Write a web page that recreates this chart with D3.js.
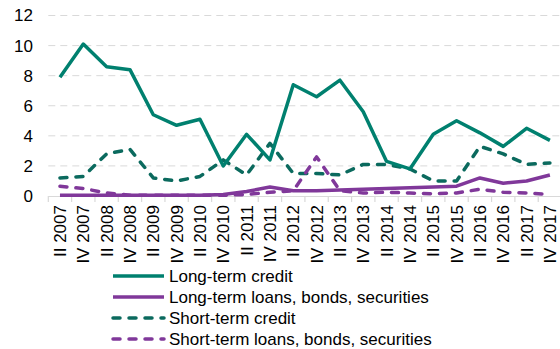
<!DOCTYPE html>
<html><head><meta charset="utf-8">
<script src="https://cdn.jsdelivr.net/npm/d3@7"></script>
<style>
html,body{margin:0;padding:0;background:#fff;}
svg{display:block;font-family:"Liberation Sans",Arial,sans-serif;}
</style></head>
<body><svg id="c" width="560" height="349"></svg>
<script>
const categories = ["II 2007","IV 2007","II 2008","IV 2008","II 2009","IV 2009","II 2010","IV 2010","II 2011","IV 2011","II 2012","IV 2012","II 2013","IV 2013","II 2014","IV 2014","II 2015","IV 2015","II 2016","IV 2016","II 2017","IV 2017"];
const longTermCredit = [7.9,10.1,8.6,8.4,5.4,4.7,5.1,2.0,4.1,2.4,7.4,6.6,7.7,5.6,2.3,1.8,4.1,5.0,4.2,3.3,4.5,3.7];
const longTermLoans = [0.05,0.05,0.05,0.05,0.05,0.05,0.05,0.1,0.3,0.6,0.35,0.35,0.4,0.45,0.5,0.55,0.6,0.65,1.2,0.85,1.0,1.4];
const shortTermCredit = [1.2,1.3,2.8,3.1,1.2,1.0,1.3,2.4,1.4,3.5,1.5,1.5,1.4,2.1,2.1,1.8,1.0,1.0,3.3,2.8,2.1,2.2];
const shortTermLoans = [0.65,0.5,0.2,0.05,0.05,0.05,0.05,0.05,0.1,0.25,0.35,2.6,0.35,0.2,0.25,0.2,0.15,0.2,0.45,0.25,0.2,0.1];
const yTicks = [0,2,4,6,8,10,12];
const seriesNames = ["Long-term credit","Long-term loans, bonds, securities","Short-term credit","Short-term loans, bonds, securities"];

const series = [
  {name: seriesNames[0], values: longTermCredit, color: "#00806f", dash: null},
  {name: seriesNames[1], values: longTermLoans, color: "#80389a", dash: null},
  {name: seriesNames[2], values: shortTermCredit, color: "#0b6a5e", dash: "7,9"},
  {name: seriesNames[3], values: shortTermLoans, color: "#80389a", dash: "7,9"}
];

const svg = d3.select("#c");
const left = 48.3, step = 23.33;
const x = d3.scaleBand().domain(categories).range([left, left + step*categories.length]).padding(0);
const y = d3.scaleLinear().domain([0,12]).range([196, 15.5]);

// gridlines
svg.append("g").selectAll("line").data(yTicks.filter(d=>d>0)).join("line")
  .attr("x1", left).attr("x2", 560)
  .attr("y1", d=>y(d)).attr("y2", d=>y(d))
  .attr("stroke", "#d9d9d9").attr("stroke-width", 1).attr("stroke-dasharray", "7,5");

// y labels
svg.append("g").selectAll("text").data(yTicks).join("text")
  .attr("x", 33).attr("y", d=>y(d)).attr("dy", "0.35em")
  .attr("text-anchor", "end").attr("font-size", 17).attr("fill", "#000")
  .text(d=>d);

// x axis
const xAxis = d3.axisBottom(x).tickSize(0).tickFormat("");
const gx = svg.append("g").attr("transform", `translate(0,${y(0)})`).call(xAxis);
gx.select(".domain").attr("stroke", "#d9d9d9").attr("stroke-width", 1.2).attr("d", `M${left},0.5H560`);
const bounds = categories.map(c=>x(c)).concat([x(categories[categories.length-1]) + x.bandwidth()]);
gx.selectAll(".bt").data(bounds).join("line").attr("class","bt")
  .attr("x1", d=>d).attr("x2", d=>d).attr("y1", 0).attr("y2", 6)
  .attr("stroke", "#d9d9d9").attr("stroke-width", 1.2);
gx.selectAll(".lbl").data(categories).join("text").attr("class","lbl")
  .attr("transform", d=>`translate(${x(d)+x.bandwidth()/2},${9}) rotate(-90)`)
  .attr("dy", "0.35em").attr("text-anchor", "end").attr("font-size", 17).attr("fill", "#000")
  .text(d=>d);

// lines (draw order: short-term loans last on top?)
const line = d3.line().x((d,i)=>x(categories[i]) + x.bandwidth()/2).y(d=>y(d));
const drawOrder = [2, 3, 1, 0];
drawOrder.forEach(k => {
  const s = series[k];
  svg.append("path").datum(s.values)
    .attr("d", line).attr("fill", "none")
    .attr("stroke", s.color).attr("stroke-width", 3.5)
    .attr("stroke-linejoin", "round")
    .attr("stroke-linecap", s.dash ? "round" : "butt")
    .attr("stroke-dasharray", s.dash);
});

// legend
const lg = svg.append("g");
series.forEach((s, i) => {
  const ly = 276 + i*21;
  lg.append("line").attr("x1", 113).attr("x2", 164).attr("y1", ly).attr("y2", ly)
    .attr("stroke", s.color).attr("stroke-width", 3.5)
    .attr("stroke-linecap", s.dash ? "round" : "butt")
    .attr("stroke-dasharray", s.dash ? "7,9" : null);
  lg.append("text").attr("x", 169).attr("y", ly).attr("dy", "0.35em")
    .attr("font-size", 17).attr("fill", "#000").text(s.name);
});
</script></body></html>
